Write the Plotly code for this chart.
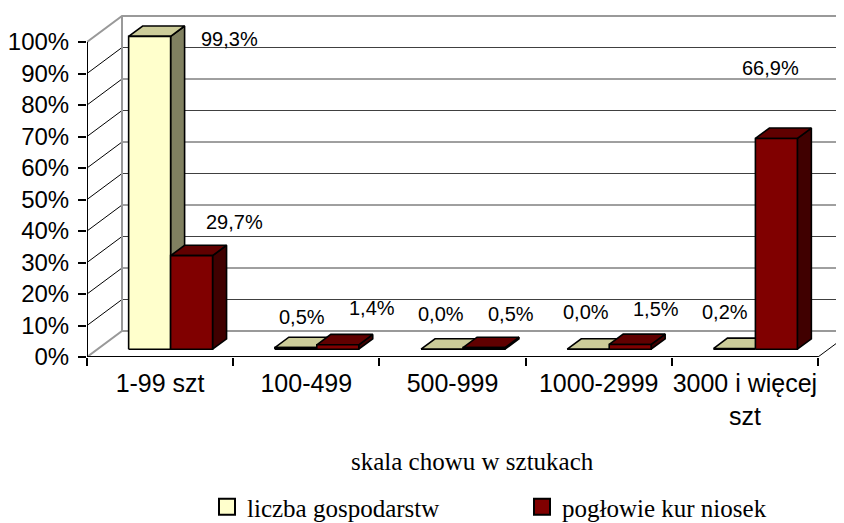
import plotly.graph_objects as go

# ---------------- data ----------------
categories = ["1-99 szt", "100-499", "500-999", "1000-2999", "3000 i więcej<br>szt"]
series_names = ["liczba gospodarstw", "pogłowie kur niosek"]
liczba_gospodarstw = [99.3, 0.5, 0.0, 0.0, 0.2]
poglowie_kur = [29.7, 1.4, 0.5, 1.5, 66.9]
y_ticks = [0, 10, 20, 30, 40, 50, 60, 70, 80, 90, 100]
x_title = "skala chowu w sztukach"

# ---------------- styling / geometry ----------------
OFF = 8               # default page body margin
W, H = 844 - OFF, 523 - OFF
PX_X = 146.2          # px per category
PX_Y = 3.15           # px per percent
DX = 35 / PX_X        # 3-D depth, horizontal (category units)
DY = 26 / PX_Y        # 3-D depth, vertical (percent units)
GAP, BW = 0.213, 0.287
D0, DD = 0.30, 0.40   # bar front depth and bar depth (fractions)
L = 87 - OFF          # y axis position (page px 87)
T = 10 - OFF
BOTTOM = 357 - OFF    # floor front edge (page px 357)
PLOT_W = W - L
PLOT_H = BOTTOM - T
XMAX = PLOT_W / PX_X
YMAX = PLOT_H / PX_Y
NCAT = len(categories)


def px_to_paper(px, py):
    return ((px - OFF - L) / PLOT_W, (BOTTOM - (py - OFF)) / PLOT_H)


face_colors = [
    dict(front="#FFFFCC", top="#CCCC99", side="#808060"),
    dict(front="#800000", top="#600000", side="#400000"),
]
# pixel nudges of the value labels (style)
label_shift = [
    [(73, -13), (-1, 20), (-8, 25), (-9, 27), (-16, 26)],
    [(36, 23), (27, 26), (20, 23), (19, 25), (-13, 60)],
]

fig = go.Figure()


def line_trace(xs, ys, color, width):
    fig.add_trace(go.Scatter(x=xs, y=ys, mode="lines", line=dict(color=color, width=width),
                             hoverinfo="skip", showlegend=False, cliponaxis=False))


GRAY = "#999999"
XEND = XMAX + 0.2
# back wall gridlines
gx, gy = [], []
for t in y_ticks[1:-1]:
    gx += [DX, XEND, None]
    gy += [t + DY, t + DY, None]
line_trace(gx, gy, "#404040", 1)
# side wall diagonals
sx, sy = [], []
for t in y_ticks[1:-1]:
    sx += [0, DX, None]
    sy += [t, t + DY, None]
line_trace(sx, sy, "#000000", 1)
# gray frame: top edge, floor back edge, back-left vertical
fx = [0, DX, XEND, None, 0, DX, XEND, None, DX, DX]
fy = [y_ticks[-1], y_ticks[-1] + DY, y_ticks[-1] + DY, None, 0, DY, DY, None, DY, y_ticks[-1] + DY]
line_trace(fx, fy, GRAY, 2)
# floor right diagonal
line_trace([NCAT, NCAT + DX], [0, DY], "#000000", 1)


def add_poly(polys, color):
    xs, ys = [], []
    for p in polys:
        xs += [q[0] for q in p] + [p[0][0], None]
        ys += [q[1] for q in p] + [p[0][1], None]
    fig.add_trace(go.Scatter(x=xs, y=ys, mode="lines", fill="toself", fillcolor=color,
                             line=dict(color="black", width=1.6), hoverinfo="skip",
                             showlegend=False, cliponaxis=False))


annotations = []
for s, values in enumerate([liczba_gospodarstw, poglowie_kur]):
    fronts, tops, sides = [], [], []
    for i, v in enumerate(values):
        x0 = i + GAP + s * BW + D0 * DX
        y0 = D0 * DY
        ddx, ddy = DD * DX, DD * DY
        fronts.append([(x0, y0), (x0 + BW, y0), (x0 + BW, y0 + v), (x0, y0 + v)])
        tops.append([(x0, y0 + v), (x0 + BW, y0 + v), (x0 + BW + ddx, y0 + v + ddy), (x0 + ddx, y0 + v + ddy)])
        sides.append([(x0 + BW, y0), (x0 + BW + ddx, y0 + ddy), (x0 + BW + ddx, y0 + v + ddy), (x0 + BW, y0 + v)])
        xs_, ys_ = label_shift[s][i]
        annotations.append(dict(
            x=x0 + BW / 2 + ddx / 2, y=y0 + v + ddy, xref="x", yref="y",
            text=f"{v:.1f}".replace(".", ",") + "%", showarrow=False,
            xanchor="center", yanchor="middle", xshift=xs_, yshift=ys_,
            font=dict(family="Liberation Sans, Arial", size=20, color="black")))
    add_poly(sides, face_colors[s]["side"])
    add_poly(tops, face_colors[s]["top"])
    add_poly(fronts, face_colors[s]["front"])

# front axes lines
line_trace([0, 0], [0, y_ticks[-1]], "#000000", 2)
line_trace([0, NCAT], [0, 0], "#000000", 2)

# legend entries
for s, name in enumerate(series_names):
    fig.add_trace(go.Scatter(x=[None], y=[None], mode="markers", name=name,
                             marker=dict(symbol="square", size=17, color=face_colors[s]["front"],
                                         line=dict(color="black", width=2))))

tx, ty = px_to_paper(473, 461)
annotations.append(dict(x=tx, y=ty, xref="paper", yref="paper",
                        text=x_title, showarrow=False, xanchor="center", yanchor="middle",
                        font=dict(family="Liberation Serif, Times New Roman", size=25, color="black")))

fig.update_layout(
    width=W, height=H,
    margin=dict(l=L, r=0, t=T, b=H - BOTTOM, pad=0, autoexpand=False),
    paper_bgcolor="white", plot_bgcolor="white",
    font=dict(family="Liberation Sans, Arial", color="black"),
    xaxis=dict(range=[0, XMAX], tickmode="array", tickvals=[i + 0.5 for i in range(NCAT)],
               ticktext=categories, ticks="", showgrid=False, zeroline=False, showline=False,
               tickfont=dict(size=25, color="black"), ticklabelstandoff=9, automargin=False,
               minor=dict(tickmode="linear", tick0=0, dtick=1, ticks="outside", ticklen=8,
                          tickwidth=2, tickcolor="black", showgrid=False),
               fixedrange=True),
    yaxis=dict(range=[0, YMAX], tickmode="array", tickvals=y_ticks,
               ticktext=[f"{t}%" for t in y_ticks], ticks="outside", ticklen=8, tickwidth=2,
               tickcolor="black", showgrid=False, zeroline=False, showline=False, automargin=False,
               tickfont=dict(size=24, color="black"), ticklabelstandoff=4, fixedrange=True),
    legend=dict(orientation="h", xref="container", yref="container",
                x=(207 - OFF) / W, y=1 - (507 - OFF) / H,
                xanchor="left", yanchor="middle", entrywidth=270, entrywidthmode="pixels",
                font=dict(family="Liberation Serif, Times New Roman", size=25, color="black"),
                itemwidth=30, bgcolor="rgba(0,0,0,0)"),
    annotations=annotations,
    showlegend=True,
)

fig.write_html("out.html")
